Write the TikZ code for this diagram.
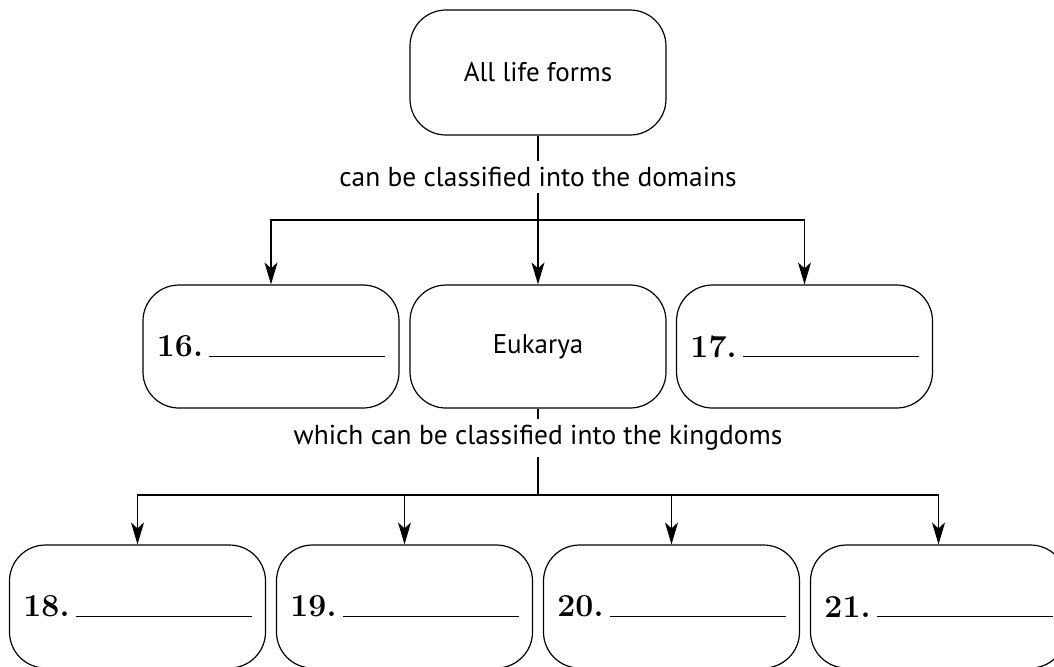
\documentclass[tikz,border=0pt]{standalone}
\usepackage{fontspec}
\setsansfont{PT Sans}
\usetikzlibrary{arrows.meta}

\newcommand{\answerline}[1]{{\rmfamily\fontsize{16}{19}\selectfont\bfseries #1.}\hspace{3pt}\rule{88pt}{0.6pt}}

\begin{document}
\begin{tikzpicture}[x=0.5pt,y=-0.5pt,line width=0.6pt,
  lifebox/.style={draw,rounded corners=18pt,minimum width=128pt,minimum height=61.5pt,
    font=\sffamily\fontsize{13.5}{16}\selectfont},
  linklabel/.style={fill=white,inner sep=3pt,font=\sffamily\fontsize{13.7}{16}\selectfont},
  arr/.style={-{Stealth[length=11pt,width=6.5pt,inset=3pt]}}]
\clip (0,0) rectangle (1054,666);
% top level
\node[lifebox,minimum height=62.5pt] (life) at (538,72.5) {All life forms};
\node[linklabel] (domtext) at (538,177) {can be classified into the domains};
\coordinate (dsplit) at (538,220);
% domains
\node[lifebox] (d16) at (271,346.5) {\answerline{16}};
\node[lifebox] (eukarya) at (538,346.5) {Eukarya};
\node[lifebox] (d17) at (804.5,346.5) {\answerline{17}};
\node[linklabel] (kingtext) at (538,438) {which can be classified into the kingdoms};
\coordinate (ksplit) at (538,495);
% kingdoms
\foreach \n [count=\i from 0] in {18,19,20,21}
  \node[lifebox] (k\n) at (137.5+267*\i,606.5) {\answerline{\n}};
% connectors
\draw (life) -- (domtext) -- (dsplit);
\draw[arr] (dsplit) -- (eukarya);
\draw[arr] (dsplit) -| (d16);
\draw[arr] (dsplit) -| (d17);
\draw (eukarya) -- (kingtext) -- (ksplit);
\foreach \n in {18,19,20,21}
  \draw[arr] (ksplit) -| (k\n);
\end{tikzpicture}
\end{document}
